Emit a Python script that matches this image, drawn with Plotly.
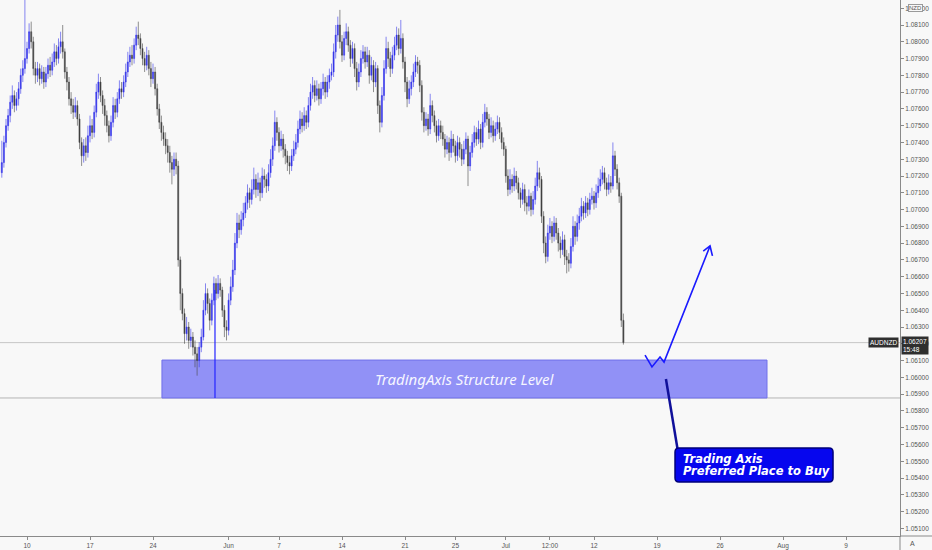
import plotly.graph_objects as go

# ---------------- data (AUDNZD, 4H candles) ----------------
first_open = 1.0722
closes = [
    1.0728, 1.0740, 1.0750, 1.0756, 1.0764, 1.0768, 1.0762, 1.0766, 1.0772, 1.0780, 1.0784, 1.0790,
    1.0796, 1.0806, 1.0800, 1.0784, 1.0780, 1.0784, 1.0778, 1.0782, 1.0776, 1.0781, 1.0786, 1.0783,
    1.0788, 1.0794, 1.0790, 1.0797, 1.0800, 1.0794, 1.0782, 1.0776, 1.0766, 1.0762, 1.0758, 1.0762,
    1.0754, 1.0740, 1.0732, 1.0738, 1.0734, 1.0744, 1.0750, 1.0746, 1.0758, 1.0770, 1.0776, 1.0768,
    1.0762, 1.0756, 1.0750, 1.0744, 1.0752, 1.0762, 1.0758, 1.0766, 1.0772, 1.0770, 1.0776, 1.0782,
    1.0788, 1.0792, 1.0790, 1.0798, 1.0804, 1.0802, 1.0796, 1.0790, 1.0786, 1.0792, 1.0784, 1.0778,
    1.0782, 1.0772, 1.0760, 1.0752, 1.0746, 1.0742, 1.0738, 1.0734, 1.0728, 1.0724, 1.0730, 1.0726,
    1.0670, 1.0650, 1.0638, 1.0626, 1.0630, 1.0622, 1.0624, 1.0618, 1.0614, 1.0610, 1.0618, 1.0624,
    1.0640, 1.0650, 1.0644, 1.0634, 1.0646, 1.0656, 1.0650, 1.0656, 1.0652, 1.0640, 1.0630, 1.0628,
    1.0646, 1.0654, 1.0664, 1.0680, 1.0692, 1.0688, 1.0694, 1.0698, 1.0704, 1.0710, 1.0706, 1.0712,
    1.0718, 1.0712, 1.0716, 1.0710, 1.0720, 1.0718, 1.0714, 1.0722, 1.0730, 1.0738, 1.0752, 1.0746,
    1.0738, 1.0742, 1.0736, 1.0732, 1.0728, 1.0726, 1.0732, 1.0736, 1.0740, 1.0748, 1.0754, 1.0750,
    1.0756, 1.0752, 1.0762, 1.0770, 1.0774, 1.0768, 1.0772, 1.0766, 1.0772, 1.0776, 1.0770, 1.0776,
    1.0780, 1.0782, 1.0794, 1.0804, 1.0810, 1.0800, 1.0792, 1.0802, 1.0806, 1.0798, 1.0790, 1.0796,
    1.0784, 1.0776, 1.0782, 1.0790, 1.0794, 1.0788, 1.0792, 1.0780, 1.0786, 1.0776, 1.0784, 1.0762,
    1.0752, 1.0768, 1.0784, 1.0796, 1.0790, 1.0784, 1.0792, 1.0798, 1.0804, 1.0796, 1.0802, 1.0788,
    1.0776, 1.0766, 1.0772, 1.0776, 1.0782, 1.0788, 1.0786, 1.0774, 1.0758, 1.0750, 1.0754, 1.0748,
    1.0762, 1.0756, 1.0750, 1.0744, 1.0750, 1.0746, 1.0742, 1.0736, 1.0740, 1.0734, 1.0742, 1.0738,
    1.0732, 1.0740, 1.0736, 1.0730, 1.0736, 1.0742, 1.0726, 1.0734, 1.0740, 1.0746, 1.0742, 1.0748,
    1.0740, 1.0752, 1.0758, 1.0754, 1.0746, 1.0750, 1.0744, 1.0748, 1.0752, 1.0746, 1.0740, 1.0736,
    1.0720, 1.0712, 1.0718, 1.0714, 1.0720, 1.0716, 1.0710, 1.0706, 1.0712, 1.0704, 1.0702, 1.0708,
    1.0700, 1.0706, 1.0714, 1.0722, 1.0718, 1.0696, 1.0680, 1.0672, 1.0686, 1.0690, 1.0684, 1.0692,
    1.0686, 1.0680, 1.0676, 1.0682, 1.0672, 1.0670, 1.0668, 1.0678, 1.0690, 1.0684, 1.0692, 1.0696,
    1.0702, 1.0698, 1.0704, 1.0700, 1.0706, 1.0708, 1.0704, 1.0710, 1.0714, 1.0718, 1.0722, 1.0716,
    1.0712, 1.0716, 1.0714, 1.0732, 1.0724, 1.0716, 1.0708, 1.0634, 1.06207,
]
highs = [
    1.0741, 1.0744, 1.0754, 1.0760, 1.0768, 1.0774, 1.0771, 1.0770, 1.0776, 1.0784, 1.0789, 1.0825,
    1.0800, 1.0811, 1.0812, 1.0803, 1.0788, 1.0788, 1.0787, 1.0786, 1.0785, 1.0785, 1.0790, 1.0791,
    1.0793, 1.0799, 1.0798, 1.0802, 1.0806, 1.0810, 1.0796, 1.0785, 1.0779, 1.0770, 1.0766, 1.0767,
    1.0765, 1.0757, 1.0743, 1.0742, 1.0743, 1.0750, 1.0756, 1.0754, 1.0762, 1.0775, 1.0781, 1.0779,
    1.0771, 1.0766, 1.0759, 1.0753, 1.0756, 1.0767, 1.0766, 1.0770, 1.0777, 1.0776, 1.0780, 1.0787,
    1.0794, 1.0797, 1.0798, 1.0802, 1.0809, 1.0812, 1.0805, 1.0799, 1.0794, 1.0797, 1.0795, 1.0788,
    1.0787, 1.0785, 1.0775, 1.0763, 1.0756, 1.0750, 1.0746, 1.0742, 1.0738, 1.0732, 1.0734, 1.0734,
    1.0729, 1.0672, 1.0653, 1.0641, 1.0636, 1.0633, 1.0629, 1.0627, 1.0622, 1.0618, 1.0621, 1.0629,
    1.0646, 1.0656, 1.0653, 1.0647, 1.0650, 1.0660, 1.0659, 1.0661, 1.0659, 1.0654, 1.0643, 1.0634,
    1.0650, 1.0660, 1.0670, 1.0686, 1.0698, 1.0697, 1.0699, 1.0704, 1.0708, 1.0715, 1.0713, 1.0718,
    1.0725, 1.0721, 1.0722, 1.0719, 1.0725, 1.0724, 1.0721, 1.0727, 1.0736, 1.0743, 1.0759, 1.0755,
    1.0749, 1.0747, 1.0745, 1.0739, 1.0735, 1.0732, 1.0736, 1.0741, 1.0745, 1.0753, 1.0759, 1.0758,
    1.0761, 1.0759, 1.0767, 1.0775, 1.0779, 1.0777, 1.0777, 1.0775, 1.0776, 1.0781, 1.0779, 1.0780,
    1.0784, 1.0787, 1.0799, 1.0810, 1.0815, 1.0819, 1.0804, 1.0806, 1.0811, 1.0809, 1.0801, 1.0800,
    1.0799, 1.0788, 1.0787, 1.0795, 1.0798, 1.0797, 1.0797, 1.0795, 1.0791, 1.0789, 1.0788, 1.0786,
    1.0765, 1.0773, 1.0789, 1.0803, 1.0800, 1.0794, 1.0797, 1.0803, 1.0809, 1.0808, 1.0813, 1.0805,
    1.0791, 1.0779, 1.0777, 1.0780, 1.0787, 1.0792, 1.0791, 1.0789, 1.0777, 1.0761, 1.0758, 1.0757,
    1.0769, 1.0765, 1.0759, 1.0753, 1.0754, 1.0753, 1.0750, 1.0745, 1.0744, 1.0743, 1.0747, 1.0745,
    1.0741, 1.0744, 1.0743, 1.0739, 1.0741, 1.0746, 1.0744, 1.0738, 1.0745, 1.0750, 1.0749, 1.0753,
    1.0751, 1.0757, 1.0763, 1.0761, 1.0757, 1.0755, 1.0753, 1.0752, 1.0756, 1.0755, 1.0749, 1.0743,
    1.0738, 1.0724, 1.0724, 1.0721, 1.0725, 1.0723, 1.0719, 1.0713, 1.0716, 1.0715, 1.0708, 1.0712,
    1.0710, 1.0711, 1.0719, 1.0729, 1.0725, 1.0720, 1.0699, 1.0684, 1.0691, 1.0695, 1.0693, 1.0696,
    1.0695, 1.0689, 1.0684, 1.0687, 1.0685, 1.0676, 1.0674, 1.0683, 1.0696, 1.0693, 1.0697, 1.0701,
    1.0707, 1.0705, 1.0708, 1.0707, 1.0710, 1.0713, 1.0711, 1.0715, 1.0719, 1.0724, 1.0726, 1.0725,
    1.0719, 1.0721, 1.0720, 1.0740, 1.0735, 1.0727, 1.0719, 1.0710, 1.0638,
]
lows = [
    1.0719, 1.0725, 1.0737, 1.0747, 1.0752, 1.0760, 1.0758, 1.0759, 1.0762, 1.0769, 1.0776, 1.0781,
    1.0787, 1.0793, 1.0796, 1.0780, 1.0775, 1.0776, 1.0774, 1.0775, 1.0772, 1.0773, 1.0778, 1.0779,
    1.0780, 1.0785, 1.0786, 1.0787, 1.0793, 1.0790, 1.0778, 1.0771, 1.0762, 1.0757, 1.0754, 1.0755,
    1.0750, 1.0736, 1.0726, 1.0728, 1.0729, 1.0731, 1.0740, 1.0742, 1.0743, 1.0755, 1.0766, 1.0764,
    1.0757, 1.0750, 1.0746, 1.0740, 1.0741, 1.0749, 1.0754, 1.0755, 1.0763, 1.0766, 1.0767, 1.0773,
    1.0779, 1.0785, 1.0786, 1.0787, 1.0795, 1.0798, 1.0792, 1.0786, 1.0782, 1.0783, 1.0780, 1.0773,
    1.0775, 1.0768, 1.0756, 1.0748, 1.0741, 1.0738, 1.0733, 1.0728, 1.0722, 1.0715, 1.0720, 1.0721,
    1.0666, 1.0640, 1.0634, 1.0620, 1.0622, 1.0617, 1.0618, 1.0613, 1.0606, 1.0601, 1.0606, 1.0615,
    1.0622, 1.0637, 1.0638, 1.0628, 1.0631, 1.0643, 1.0646, 1.0647, 1.0648, 1.0636, 1.0624, 1.0622,
    1.0625, 1.0643, 1.0651, 1.0661, 1.0677, 1.0683, 1.0685, 1.0690, 1.0695, 1.0700, 1.0701, 1.0703,
    1.0709, 1.0707, 1.0708, 1.0705, 1.0707, 1.0713, 1.0710, 1.0711, 1.0719, 1.0726, 1.0735, 1.0741,
    1.0734, 1.0735, 1.0731, 1.0727, 1.0723, 1.0721, 1.0723, 1.0729, 1.0733, 1.0737, 1.0745, 1.0746,
    1.0747, 1.0748, 1.0749, 1.0759, 1.0766, 1.0764, 1.0765, 1.0762, 1.0763, 1.0768, 1.0766, 1.0767,
    1.0772, 1.0777, 1.0779, 1.0790, 1.0800, 1.0796, 1.0788, 1.0789, 1.0798, 1.0794, 1.0785, 1.0787,
    1.0779, 1.0771, 1.0773, 1.0779, 1.0787, 1.0784, 1.0785, 1.0775, 1.0777, 1.0770, 1.0773, 1.0757,
    1.0746, 1.0749, 1.0765, 1.0781, 1.0785, 1.0779, 1.0781, 1.0789, 1.0795, 1.0792, 1.0793, 1.0784,
    1.0770, 1.0761, 1.0763, 1.0768, 1.0773, 1.0779, 1.0781, 1.0770, 1.0753, 1.0746, 1.0747, 1.0744,
    1.0745, 1.0752, 1.0746, 1.0740, 1.0741, 1.0742, 1.0738, 1.0731, 1.0733, 1.0729, 1.0731, 1.0734,
    1.0728, 1.0729, 1.0731, 1.0726, 1.0727, 1.0733, 1.0714, 1.0723, 1.0731, 1.0737, 1.0738, 1.0739,
    1.0736, 1.0737, 1.0749, 1.0750, 1.0742, 1.0743, 1.0740, 1.0741, 1.0745, 1.0742, 1.0736, 1.0732,
    1.0716, 1.0708, 1.0709, 1.0710, 1.0711, 1.0712, 1.0706, 1.0701, 1.0703, 1.0699, 1.0697, 1.0699,
    1.0696, 1.0697, 1.0703, 1.0711, 1.0713, 1.0692, 1.0674, 1.0668, 1.0669, 1.0682, 1.0680, 1.0681,
    1.0682, 1.0675, 1.0671, 1.0673, 1.0667, 1.0662, 1.0663, 1.0665, 1.0675, 1.0679, 1.0681, 1.0688,
    1.0693, 1.0694, 1.0695, 1.0696, 1.0697, 1.0703, 1.0700, 1.0701, 1.0707, 1.0711, 1.0715, 1.0712,
    1.0708, 1.0709, 1.0710, 1.0712, 1.0720, 1.0712, 1.0704, 1.0630, 1.06195,
]
first_bar = -12        # first 4H bar, counted from 10 May 00:00
bars_per_day = 6       # 4H bars per trading day (weekends collapsed)

# x axis: trading-day index, 10 May = 0
tick_days = [0, 5, 10, 16, 20, 25, 30, 34, 38, 41.5, 45, 50, 55, 60, 65]
tick_labels = ["10", "17", "24", "Jun", "7", "14", "21", "25", "Jul", "12:00",
               "12", "19", "26", "Aug", "9"]

last_price = 1.06207
last_time = "15:48"
symbol = "AUDNZD"

# drawings
zone_days = [10.71, 58.73]
zone_prices = [1.05877, 1.06103]
zone_label = "TradingAxis Structure Level"
marker_line_day = 14.92
marker_line_prices = [1.05877, 1.06521]
plan_days = [49.05, 49.60, 50.24, 50.56, 54.21]
plan_prices = [1.06133, 1.06062, 1.06121, 1.06091, 1.06783]
arrow_days = [53.67, 54.21, 54.40]
arrow_prices = [1.06752, 1.06783, 1.06724]
callout_line_days = [50.71, 51.67]
callout_line_prices = [1.05990, 1.05555]
callout_box_days = [51.43, 63.97]
callout_box_prices = [1.05376, 1.05579]
callout_lines = ["Trading Axis", "Preferred Place to Buy"]
callout_text_day = 51.90
callout_text_prices = [1.05513, 1.05444]

x_range = [-2.1429, 69.286]
y_range = [1.050544, 1.08249]

# ---------------- build ----------------
opens = [first_open] + closes[:-1]
xs = [(first_bar + i) / bars_per_day for i in range(len(closes))]
hi = [max(h, o, c) for h, o, c in zip(highs, opens, closes)]
lo = [min(l, o, c) for l, o, c in zip(lows, opens, closes)]

BG = "#f8f8f8"
fig = go.Figure()

fig.add_trace(go.Candlestick(
    x=xs, open=opens, high=hi, low=lo, close=closes,
    increasing=dict(fillcolor="#2626e8", line=dict(color="rgba(55,55,235,0.75)", width=0.8)),
    decreasing=dict(fillcolor="#3a3a3a", line=dict(color="rgba(70,70,70,0.75)", width=0.8)),
    hoverinfo="skip", showlegend=False,
))

fig.add_trace(go.Scatter(x=plan_days, y=plan_prices, mode="lines",
                         line=dict(color="#1a1aff", width=1.6), hoverinfo="skip", showlegend=False))
fig.add_trace(go.Scatter(x=arrow_days, y=arrow_prices, mode="lines",
                         line=dict(color="#1a1aff", width=1.6), hoverinfo="skip", showlegend=False))
fig.add_trace(go.Scatter(x=callout_line_days, y=callout_line_prices, mode="lines",
                         line=dict(color="#10109a", width=2.5), hoverinfo="skip", showlegend=False))

shapes = []
shapes.append(dict(type="line", xref="x domain", x0=0, x1=1, yref="y", y0=last_price, y1=last_price,
                   line=dict(color="#c6c6c6", width=1), layer="below"))
shapes.append(dict(type="line", xref="x domain", x0=0, x1=1, yref="y", y0=zone_prices[0], y1=zone_prices[0],
                   line=dict(color="#b4b4b4", width=1), layer="below"))
shapes.append(dict(type="rect", xref="x", yref="y", x0=zone_days[0], x1=zone_days[1],
                   y0=zone_prices[0], y1=zone_prices[1], fillcolor="#9191f6",
                   line=dict(color="#7070ea", width=1), layer="below"))
shapes.append(dict(type="line", xref="x", yref="y", x0=marker_line_day, x1=marker_line_day,
                   y0=marker_line_prices[0], y1=marker_line_prices[1],
                   line=dict(color="#2424ff", width=1.2)))
x0, x1 = callout_box_days
y0, y1 = callout_box_prices
rx, ry = 0.32, 0.00024
path = (f"M {x0+rx},{y0} L {x1-rx},{y0} Q {x1},{y0} {x1},{y0+ry} L {x1},{y1-ry} "
        f"Q {x1},{y1} {x1-rx},{y1} L {x0+rx},{y1} Q {x0},{y1} {x0},{y1-ry} "
        f"L {x0},{y0+ry} Q {x0},{y0} {x0+rx},{y0} Z")
shapes.append(dict(type="path", xref="x", yref="y", path=path, fillcolor="#0606ee",
                   line=dict(color="#00007a", width=1.5)))
shapes.append(dict(type="line", xref="paper", yref="paper", x0=1, x1=1.04, y0=0, y1=0,
                   line=dict(color="#8a8a8a", width=1)))
shapes.append(dict(type="line", xref="paper", yref="paper", x0=1, x1=1, y0=0, y1=-0.03,
                   line=dict(color="#8a8a8a", width=1)))

annotations = []
annotations.append(dict(x=sum(zone_days) / 2, y=sum(zone_prices) / 2, xref="x", yref="y",
                        text=f"<i>{zone_label}</i>", showarrow=False,
                        font=dict(family="Noto Sans", size=15, color="#f6f6ff")))
for t, p in zip(callout_lines, callout_text_prices):
    annotations.append(dict(x=callout_text_day, y=p, xref="x", yref="y", xanchor="left",
                            text=f"<b><i>{t}</i></b>", showarrow=False,
                            font=dict(family="DejaVu Sans", size=11.5, color="#ffffff")))
annotations.append(dict(x=1, y=last_price, xref="paper", yref="y", xanchor="right", xshift=-1,
                        text=symbol, showarrow=False, bgcolor="#2f2f2f", borderpad=1,
                        font=dict(family="Liberation Sans", size=6.5, color="#ffffff")))
annotations.append(dict(x=1, y=last_price, xref="paper", yref="y", xanchor="left", yanchor="top",
                        xshift=1, yshift=7, align="left",
                        text=f"{last_price:.5f}<br>{last_time}", showarrow=False,
                        bgcolor="#2f2f2f", borderpad=1,
                        font=dict(family="Liberation Sans", size=6.5, color="#ffffff")))
annotations.append(dict(x=1, y=1.082, xref="paper", yref="y", xanchor="left", xshift=8,
                        text="NZD", showarrow=False, bgcolor=BG, bordercolor="#9a9a9a",
                        borderwidth=1, borderpad=0,
                        font=dict(family="Liberation Sans", size=6, color="#555")))
annotations.append(dict(x=1, y=0, xref="paper", yref="paper", xanchor="left", yanchor="top",
                        xshift=8, yshift=-2, text="A", showarrow=False,
                        font=dict(family="Liberation Sans", size=7, color="#555")))

fig.update_layout(
    width=932, height=550,
    margin=dict(l=0, r=32, t=0, b=14),
    paper_bgcolor=BG, plot_bgcolor=BG,
    showlegend=False,
    shapes=shapes, annotations=annotations,
    xaxis=dict(range=x_range, rangeslider=dict(visible=False), showgrid=False, zeroline=False,
               tickmode="array", tickvals=tick_days, ticktext=tick_labels,
               ticks="outside", ticklen=3, tickcolor="#8a8a8a",
               showline=True, linecolor="#8a8a8a", linewidth=1,
               tickfont=dict(family="Liberation Sans", size=6.5, color="#555")),
    yaxis=dict(range=y_range, side="right", showgrid=False, zeroline=False,
               tick0=1.051, dtick=0.001, tickformat=".5f",
               ticks="outside", ticklen=3, tickcolor="#8a8a8a",
               showline=True, linecolor="#8a8a8a", linewidth=1,
               tickfont=dict(family="Liberation Sans", size=6.5, color="#555")),
)

fig.write_html("out.html", config={"displayModeBar": False},
               post_script="document.body.style.margin='0';document.body.style.background='#f8f8f8';")
